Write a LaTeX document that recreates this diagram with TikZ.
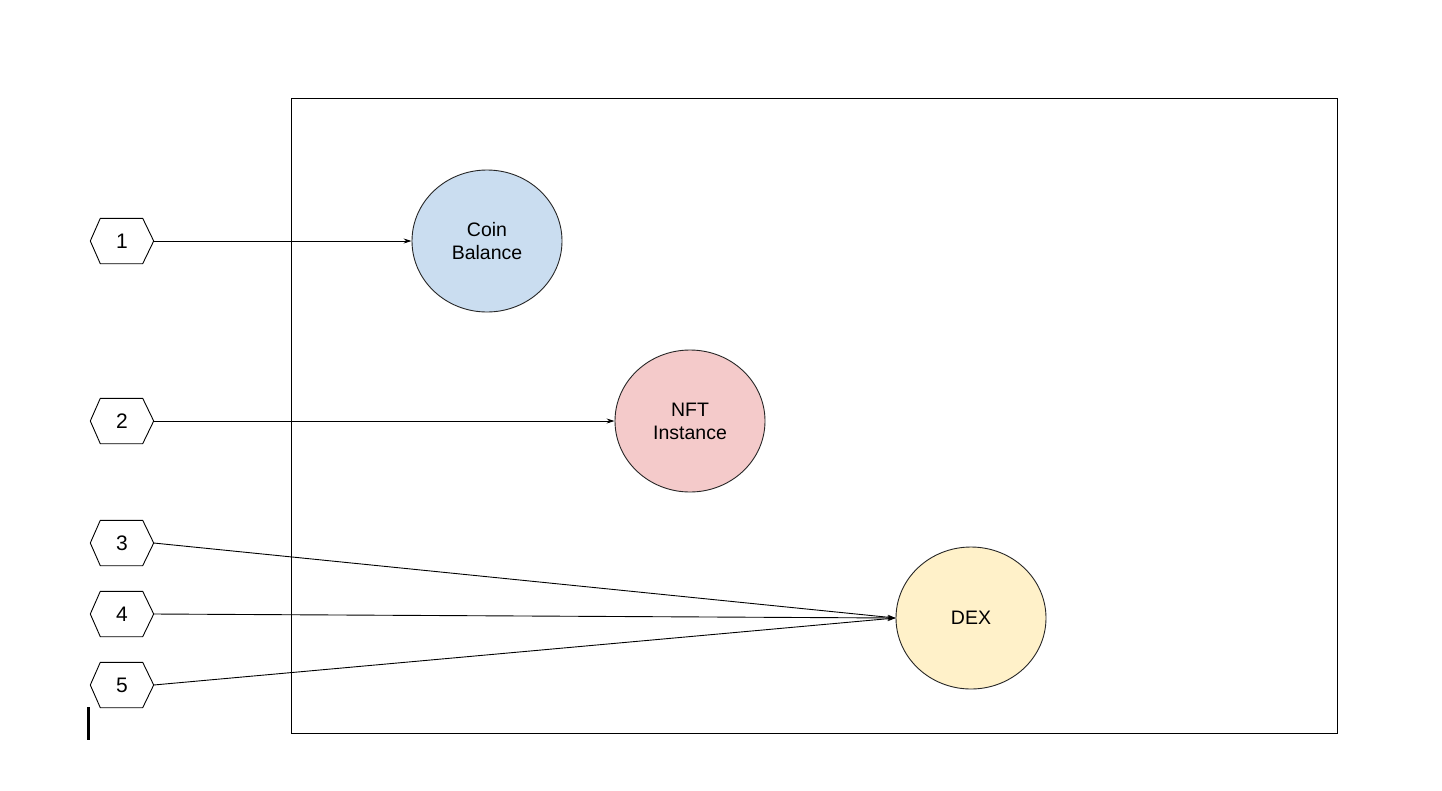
\documentclass[tikz,border=0pt]{standalone}
\usepackage{fontspec}
\setmainfont{Liberation Sans}
\usetikzlibrary{shapes.geometric,arrows.meta}
\definecolor{coinblue}{HTML}{CADDF0}
\definecolor{nftpink}{HTML}{F4CACA}
\definecolor{dexyellow}{HTML}{FFF1C9}
\tikzset{
  hexbox/.style={minimum width=63pt,minimum height=45pt,inner sep=0pt,font=\fontsize{21}{25}\selectfont},
  bubble/.style={ellipse,draw=black!85,line width=0.9pt,minimum width=150pt,minimum height=142pt,inner sep=0pt,align=center,font=\fontsize{19.5}{23}\selectfont},
  conn/.style={line width=0.9pt,-{Stealth[length=8pt,width=5pt]}},
}
\begin{document}
\begin{tikzpicture}[x=1pt,y=-1pt]
\useasboundingbox (0,0) rectangle (1442,790);
\fill[white] (0,0) rectangle (1442,790);
\draw[line width=0.9pt] (291,98) rectangle (1337,733);
\node[bubble,fill=coinblue] (coin) at (487,241) {Coin\\Balance};
\node[bubble,fill=nftpink] (nft) at (690,421) {NFT\\Instance};
\node[bubble,fill=dexyellow] (dex) at (971,618) {DEX};
\node[hexbox] (h1) at (122,241) {1};
\node[hexbox] (h2) at (122,421) {2};
\node[hexbox] (h3) at (122,543) {3};
\node[hexbox] (h4) at (122,614) {4};
\node[hexbox] (h5) at (122,685) {5};
\foreach \n in {h1,h2,h3,h4,h5}
  \draw[line width=0.9pt,line join=round] ([xshift=10pt]\n.north west) -- ([xshift=-11pt]\n.north east) -- (\n.east) -- ([xshift=-11pt]\n.south east) -- ([xshift=10pt]\n.south west) -- (\n.west) -- cycle;
\draw[conn] (h1.east) -- (coin.west);
\draw[conn] (h2.east) -- (nft.west);
\draw[conn] (h3.east) -- (dex.west);
\draw[conn] (h4.east) -- (dex.west);
\draw[conn] (h5.east) -- (dex.west);
\fill[black] (87,707) rectangle (90,740);
\end{tikzpicture}
\end{document}
